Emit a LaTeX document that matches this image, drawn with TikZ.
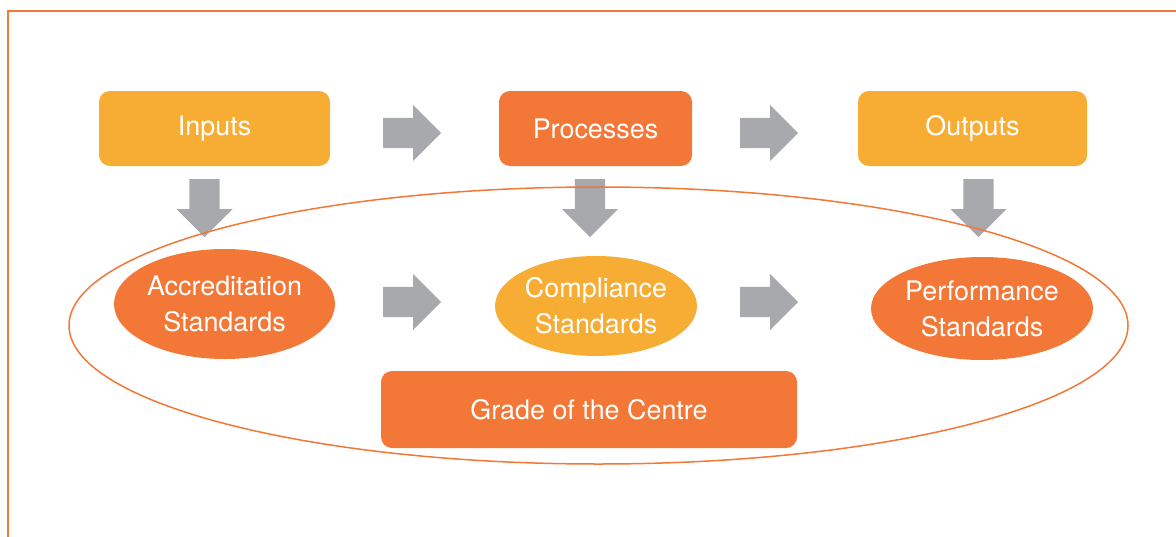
\documentclass[tikz,border=0pt]{standalone}
\usepackage{fontspec}
\setmainfont{TeX Gyre Heros}
\usepackage{tikz}
\usetikzlibrary{shapes.geometric,shapes.arrows}
\definecolor{amber}{HTML}{F7AC33}
\definecolor{tangerine}{HTML}{F37736}
\definecolor{arrowgrey}{HTML}{A7A9AC}

\begin{document}
\begin{tikzpicture}[
  box/.style={rectangle,rounded corners=11bp,inner sep=0pt,text=white,font=\fontsize{27}{36}\selectfont},
  oval/.style={ellipse,inner sep=0pt,text=white,align=center,font=\fontsize{27}{36}\selectfont},
  blockarrow/.style={single arrow,fill=arrowgrey,inner xsep=0pt,inner ysep=15bp,minimum height=58bp,single arrow head extend=13bp,anchor=tail}]

\useasboundingbox (0bp,0bp) rectangle (1176bp,-537bp);
\draw [tangerine,line width=1.5bp] (8bp,-537bp) -- (8bp,-11bp) -- (1176bp,-11bp);

% top row
\node (In) at (214.5bp,-128.5bp)[box,fill=amber,minimum width=231bp,minimum height=75bp] {Inputs};
\node (Pr) at (595.5bp,-128.5bp)[box,fill=tangerine,minimum width=193bp,minimum height=75bp] {Processes};
\node (Out) at (972.5bp,-128.5bp)[box,fill=amber,minimum width=229bp,minimum height=75bp] {Outputs};
\node (R1) at (383bp,-133bp)[blockarrow] {};
\node (R2) at (740bp,-133bp)[blockarrow] {};

% down arrows
\node (D1) at (204.5bp,-179bp)[blockarrow,rotate=-90] {};
\node (D2) at (590bp,-179bp)[blockarrow,rotate=-90] {};
\node (D3) at (978.5bp,-179bp)[blockarrow,rotate=-90] {};

% standards
\node (Acc) at (224.5bp,-304bp)[oval,fill=tangerine,minimum width=221bp,minimum height=110bp] {Accreditation\\Standards};
\node (Com) at (596bp,-306bp)[oval,fill=amber,minimum width=202bp,minimum height=100bp] {Compliance\\Standards};
\node (Per) at (982bp,-308.5bp)[oval,fill=tangerine,minimum width=222bp,minimum height=103bp] {Performance\\Standards};
\node (R3) at (383bp,-302bp)[blockarrow] {};
\node (R4) at (740bp,-302bp)[blockarrow] {};
\node (Gr) at (589bp,-409.5bp)[box,fill=tangerine,minimum width=416bp,minimum height=77bp] {Grade of the Centre};

% surrounding ellipse
\node (Ring) at (598.5bp,-325.5bp)[ellipse,draw=tangerine,line width=1.5bp,minimum width=1059bp,minimum height=277bp] {};
\end{tikzpicture}
\end{document}
